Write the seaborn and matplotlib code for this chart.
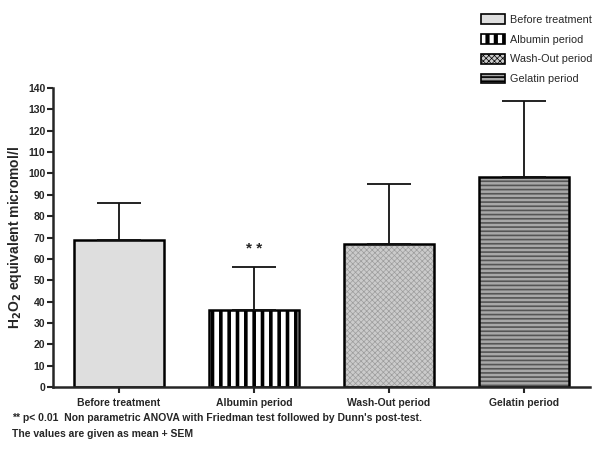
import matplotlib
matplotlib.use("Agg")
import matplotlib.pyplot as plt
import seaborn as sns
import pandas as pd
import numpy as np
from matplotlib.patches import Patch

categories = ["Before treatment", "Albumin period", "Wash-Out period", "Gelatin period"]
means = [69, 36, 67, 98.5]
sem = [17, 20, 28, 35.5]
yticks = list(range(0, 141, 10))
signif_label = "* *"
signif_index = 1

face_colors = ["#dedede", "#ffffff", "#cbcbcb", "#a8a8a8"]
hatch_colors = ["#dedede", "#000000", "#9c9c9c", "#555555"]
hatches = [None, "||", "xxxxxx", "----"]
hatch_lws = [1.0, 2.6, 0.5, 1.2]

sns.set_style("ticks")
plt.rcParams["font.family"] = ["Liberation Sans", "DejaVu Sans"]
plt.rcParams["font.weight"] = "bold"

df = pd.DataFrame({"cat": categories, "mean": means, "sem": sem})

fig = plt.figure(figsize=(6.0, 4.53), dpi=100)
ax = fig.add_axes([0.0883, 0.1457, 0.895, 0.660])

# fill + hatch layer
sns.barplot(data=df, x="cat", y="mean", order=categories, ax=ax,
            width=0.667, errorbar=None, color="white", linewidth=0, saturation=1)
for p, fc, hc, h, hlw in zip(ax.patches, face_colors, hatch_colors, hatches, hatch_lws):
    p.set_facecolor(fc)
    p.set_edgecolor(hc)
    p.set_linewidth(0)
    if h:
        p.set_hatch(h)
        if hasattr(p, "set_hatch_linewidth"):
            p.set_hatch_linewidth(hlw)

# outline layer
sns.barplot(data=df, x="cat", y="mean", order=categories, ax=ax,
            width=0.667, errorbar=None, fill=False, edgecolor="black", linewidth=1.8)

# upper error bars only
x = np.arange(len(categories))
ax.errorbar(x, means, yerr=[np.zeros(len(sem)), sem], fmt="none",
            ecolor="#111111", elinewidth=1.3, capsize=16, capthick=1.3, zorder=1)

ax.text(signif_index, means[signif_index] + sem[signif_index] + 8.5, signif_label,
        ha="center", va="center", fontsize=11, fontweight="bold")

ax.set_xlim(-0.49, 3.49)
ax.set_ylim(0, 140)
ax.set_yticks(yticks)
ax.set_xlabel("")
ax.set_ylabel(r"H$_\mathbf{2}$O$_\mathbf{2}$ equivalent micromol/l", fontsize=10,
              fontweight="bold", labelpad=3)
ax.tick_params(axis="both", labelsize=7.5, width=1.5, length=4, direction="out", pad=1.5)
ax.tick_params(axis="x", pad=4)
for lab in ax.get_xticklabels() + ax.get_yticklabels():
    lab.set_fontweight("bold")
for s in ["left", "bottom"]:
    ax.spines[s].set_linewidth(1.8)
sns.despine(ax=ax)

handles = []
for fc, hc, h, hlw in zip(face_colors, hatch_colors, hatches, hatch_lws):
    pp = Patch(facecolor=fc, edgecolor="black", linewidth=1.2, hatch=h)
    handles.append(pp)
leg = fig.legend(handles, categories, loc="upper left", bbox_to_anchor=(0.785, 0.99),
                 frameon=False, handlelength=2.2, handleheight=1.0,
                 labelspacing=0.85, handletextpad=0.5, prop={"weight": "normal", "size": 7.8})
for p, hc, h, hlw in zip(leg.get_patches(), hatch_colors, hatches, hatch_lws):
    if hasattr(p, "set_hatch_linewidth"):
        p.set_hatch_linewidth(hlw if h != "||" else 3.0)

fig.text(0.02, 0.077, "** p< 0.01  Non parametric ANOVA with Friedman test followed by Dunn's post-test.",
         fontsize=7.5, fontweight="bold", va="center")
fig.text(0.02, 0.043, "The values are given as mean + SEM",
         fontsize=7.5, fontweight="bold", va="center")

fig.savefig("out.png", dpi=100)
